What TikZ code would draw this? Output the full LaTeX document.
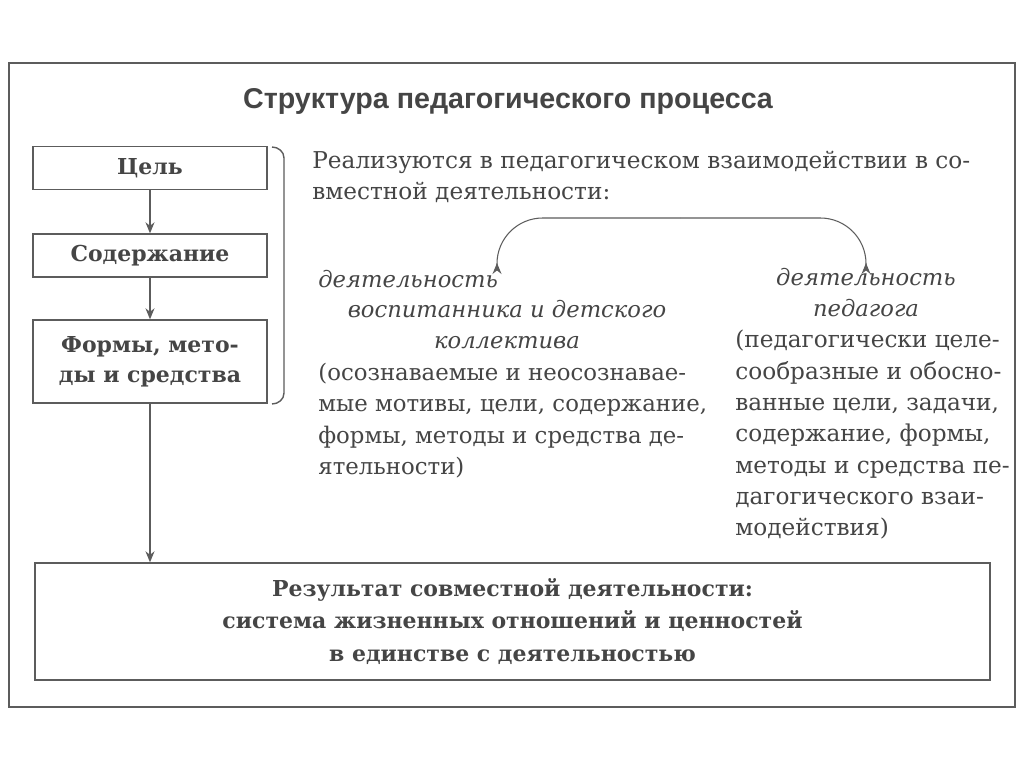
\documentclass[tikz,border=0pt]{standalone}
\usepackage{fontspec}
\setmainfont{DejaVu Serif}
\setsansfont{Liberation Sans}
\usetikzlibrary{arrows.meta}
\definecolor{ink}{HTML}{454545}
\definecolor{rule}{HTML}{5C5C5C}
\tikzset{
  stagebox/.style={draw=rule,line width=0.8pt,minimum width=4.68cm,inner sep=0pt,
    font=\bfseries\fontsize{12.5}{17}\selectfont,text=ink,align=center},
  flow/.style={draw=rule,line width=0.6pt,-{Stealth[length=2.2mm,width=1.8mm]}},
  bodytext/.style={text=ink,inner sep=0pt,align=left,font=\fontsize{13.2}{17.8}\selectfont},
  roletext/.style={text=ink,inner sep=0pt,align=center,font=\itshape\fontsize{12.9}{17.8}\selectfont}
}
\begin{document}
\begin{tikzpicture}[x=0.02cm,y=-0.02cm]
  \useasboundingbox[fill=white] (0,0) rectangle (1024,767);
  \draw[rule,line width=1.2pt] (9,63) rectangle (1015,707);
  \node[text=ink,font=\sffamily\bfseries\fontsize{16.3}{19}\selectfont] (title) at (508,101) {Структура педагогического процесса};
  % stages on the left
  \node[stagebox,minimum height=0.86cm] (goal) at (150,168) {Цель};
  \node[stagebox,minimum height=0.86cm] (content) at (150,255.5) {Содержание};
  \node[stagebox,minimum height=1.66cm] (forms) at (150,361.5) {Формы, мето-\\ды и средства};
  \node[stagebox,minimum width=19.1cm,minimum height=2.34cm,font=\bfseries\fontsize{12.5}{18.6}\selectfont] (result) at (512.5,621.5)
    {Результат совместной деятельности:\\система жизненных отношений и ценностей\\в единстве с деятельностью};
  \draw[flow] (goal) -- (content);
  \draw[flow] (content) -- (forms);
  \draw[flow] (forms.south) -- (forms.south |- result.north);
  % brace
  \draw[rule,line width=0.8pt] (272,147) to[out=0,in=90] (284,158) -- (284,393) to[out=-90,in=0] (272,404);
  % text on the right
  \node[bodytext,anchor=north west] (intro) at (312,151) {Реализуются в педагогическом взаимодействии в со-\\вместной деятельности:};
  \node[roletext,anchor=west] (pupil) at (318,279) {деятельность};
  \node[roletext,anchor=north] (pupilrest) at (507,300) {воспитанника и детского\\коллектива};
  \node[bodytext,anchor=north west,font=\fontsize{13}{17.8}\selectfont] (pupiltext) at (318,363) {(осознаваемые и неосознавае-\\мые мотивы, цели, содержание,\\формы, методы и средства де-\\ятельности)};
  \node[roletext,anchor=north] (teacher) at (866,268) {деятельность\\педагога};
  \node[bodytext,anchor=north west] (teachertext) at (735,330) {(педагогически целе-\\сообразные и обосно-\\ванные цели, задачи,\\содержание, формы,\\методы и средства пе-\\дагогического взаи-\\модействия)};
  \coordinate (pupiltip) at (497,263);
  \coordinate (teachertip) at (866,263);
  \coordinate (archtop) at (680,218);
  \draw[flow,rounded corners=26] (archtop) -| (pupiltip);
  \draw[flow,rounded corners=26] (archtop) -| (teachertip);
\end{tikzpicture}
\end{document}
